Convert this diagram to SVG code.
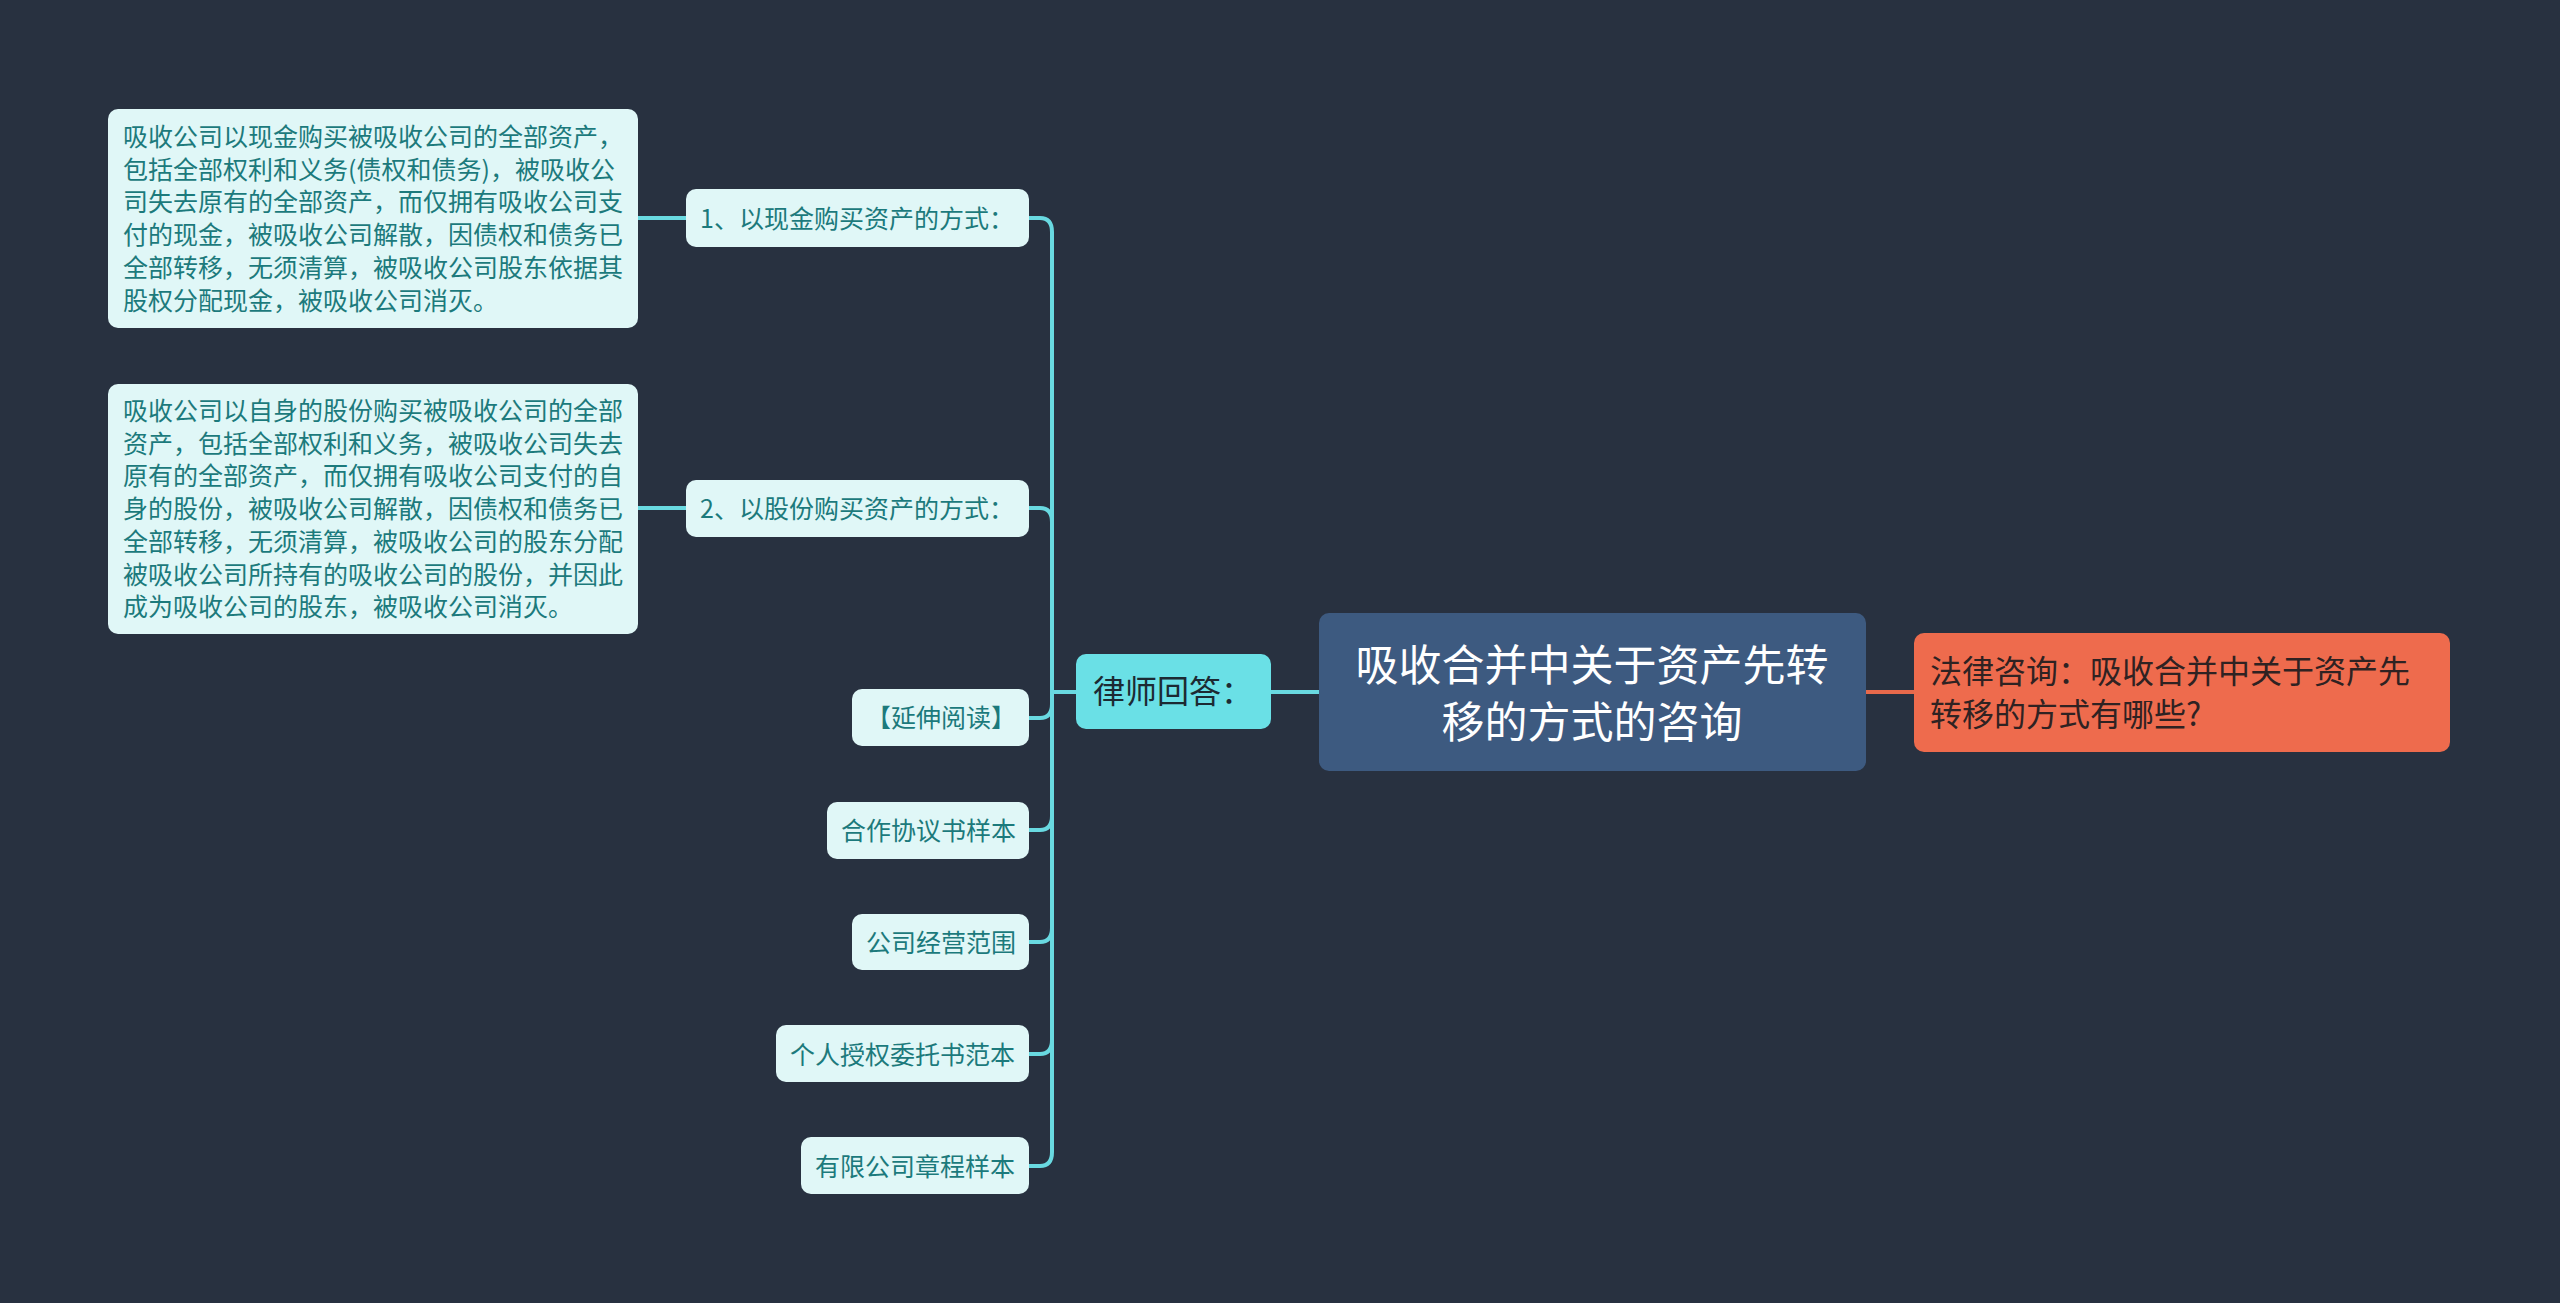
<svg xmlns="http://www.w3.org/2000/svg" width="2560" height="1303" viewBox="0 0 2560 1303">
<style>
.bg{fill:#283140}
.leaf{fill:#e0f7f7}
.lt{font-family:"Noto Sans CJK SC","Noto Sans",sans-serif;font-size:25px;fill:#1c7a7c;dominant-baseline:central}
.conn{fill:none;stroke:#69d9e1;stroke-width:4;stroke-linecap:round}
.connr{fill:none;stroke:#e8694b;stroke-width:4}
.mid{fill:#6ae0e6}
.midt{font-family:"Noto Sans CJK SC","Noto Sans",sans-serif;font-size:32px;fill:#1c2a33;dominant-baseline:central}
.root{fill:#3d5a80}
.roott{font-family:"Noto Sans CJK SC","Noto Sans",sans-serif;font-size:43px;fill:#ffffff;dominant-baseline:central;text-anchor:middle}
.q{fill:#ee6b4d}
.qt{font-family:"Noto Sans CJK SC","Noto Sans",sans-serif;font-size:32px;fill:#2f2222;dominant-baseline:central}
</style>
<rect class="bg" x="0" y="0" width="2560" height="1303"/>
<g id="connectors">
<path class="conn" d="M1076,692 H1052"/>
<path class="conn" d="M1052,692 V232 Q1052,218 1040,218 H1029"/>
<path class="conn" d="M1052,692 V522 Q1052,508 1040,508 H1029"/>
<path class="conn" d="M1052,692 V704 Q1052,718 1040,718 H1029"/>
<path class="conn" d="M1052,692 V816 Q1052,830 1040,830 H1029"/>
<path class="conn" d="M1052,692 V928 Q1052,942 1040,942 H1029"/>
<path class="conn" d="M1052,692 V1040 Q1052,1054 1040,1054 H1029"/>
<path class="conn" d="M1052,692 V1152 Q1052,1166 1040,1166 H1029"/>
<path class="conn" d="M686,218 H638"/>
<path class="conn" d="M686,508 H638"/>
<path class="conn" d="M1271,692 H1319"/>
<path class="connr" d="M1866,692 H1914"/>
</g>
<g id="root">
<rect class="root" x="1319" y="613" width="547" height="158" rx="10"/>
<text class="roott" x="1592" y="662">吸收合并中关于资产先转</text>
<text class="roott" x="1592" y="719">移的方式的咨询</text>
</g>
<g id="question">
<rect class="q" x="1914" y="633" width="536" height="119" rx="10"/>
<text class="qt" x="1930" y="669">法律咨询：吸收合并中关于资产先</text>
<text class="qt" x="1930" y="712">转移的方式有哪些?</text>
</g>
<g id="lawyer">
<rect class="mid" x="1076" y="654" width="195" height="75" rx="10"/>
<text class="midt" x="1093" y="689">律师回答：</text>
</g>
<g id="n1">
<rect class="leaf" x="686" y="189" width="343" height="58" rx="10"/>
<text class="lt" x="700" y="217">1、以现金购买资产的方式：</text>
</g>
<g id="n1text">
<rect class="leaf" x="108" y="109" width="530" height="219" rx="10"/>
<text class="lt" x="123" y="135">吸收公司以现金购买被吸收公司的全部资产，</text>
<text class="lt" x="123" y="167.7">包括全部权利和义务(债权和债务)，被吸收公</text>
<text class="lt" x="123" y="200.4">司失去原有的全部资产，而仅拥有吸收公司支</text>
<text class="lt" x="123" y="233.1">付的现金，被吸收公司解散，因债权和债务已</text>
<text class="lt" x="123" y="265.8">全部转移，无须清算，被吸收公司股东依据其</text>
<text class="lt" x="123" y="298.5">股权分配现金，被吸收公司消灭。</text>
</g>
<g id="n2">
<rect class="leaf" x="686" y="480" width="343" height="57" rx="10"/>
<text class="lt" x="700" y="507">2、以股份购买资产的方式：</text>
</g>
<g id="n2text">
<rect class="leaf" x="108" y="384" width="530" height="250" rx="10"/>
<text class="lt" x="123" y="409">吸收公司以自身的股份购买被吸收公司的全部</text>
<text class="lt" x="123" y="441.7">资产，包括全部权利和义务，被吸收公司失去</text>
<text class="lt" x="123" y="474.4">原有的全部资产，而仅拥有吸收公司支付的自</text>
<text class="lt" x="123" y="507.1">身的股份，被吸收公司解散，因债权和债务已</text>
<text class="lt" x="123" y="539.8">全部转移，无须清算，被吸收公司的股东分配</text>
<text class="lt" x="123" y="572.5">被吸收公司所持有的吸收公司的股份，并因此</text>
<text class="lt" x="123" y="605.2">成为吸收公司的股东，被吸收公司消灭。</text>
</g>
<g id="n3">
<rect class="leaf" x="852" y="689" width="177" height="57" rx="10"/>
<text class="lt" x="866" y="716">【延伸阅读】</text>
</g>
<g id="n4">
<rect class="leaf" x="827" y="802" width="202" height="57" rx="10"/>
<text class="lt" x="841" y="829">合作协议书样本</text>
</g>
<g id="n5">
<rect class="leaf" x="852" y="914" width="177" height="56" rx="10"/>
<text class="lt" x="866" y="941">公司经营范围</text>
</g>
<g id="n6">
<rect class="leaf" x="776" y="1025" width="253" height="57" rx="10"/>
<text class="lt" x="790" y="1053">个人授权委托书范本</text>
</g>
<g id="n7">
<rect class="leaf" x="801" y="1137" width="228" height="57" rx="10"/>
<text class="lt" x="815" y="1165">有限公司章程样本</text>
</g>
</svg>
